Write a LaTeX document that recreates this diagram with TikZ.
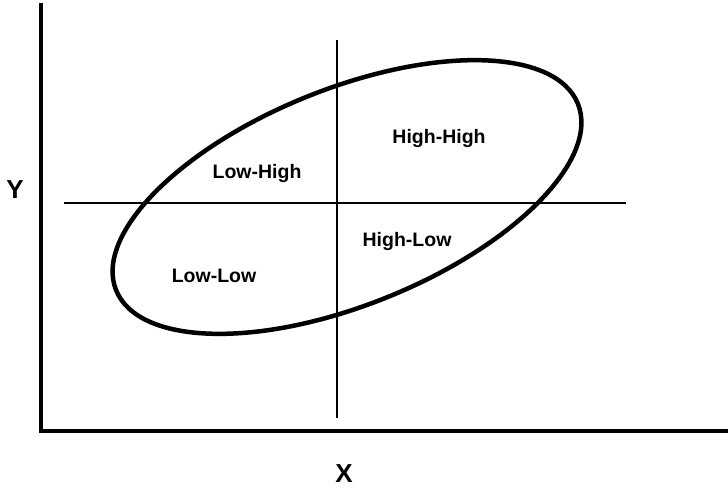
\documentclass[tikz,border=0pt]{standalone}
\usepackage{fontspec}
\setmainfont{Liberation Sans}
\begin{document}
\begin{tikzpicture}[x=1pt,y=1pt,
  axis/.style={line width=4.8pt,line cap=rect},
  divider/.style={line width=2pt},
  loop/.style={line width=4.5pt},
  region/.style={font=\fontsize{19.5}{22}\selectfont\bfseries},
  axislabel/.style={font=\fontsize{26}{30}\selectfont\bfseries}]
\useasboundingbox (0,0) rectangle (728,488);
\coordinate (ytop) at (41,483);
\coordinate (origin) at (41,57);
\coordinate (xend) at (728,57);
\draw[axis] (ytop) -- (origin) -- (xend);
\coordinate (hl) at (64,285);
\coordinate (hr) at (626,285);
\coordinate (vt) at (337,448);
\coordinate (vb) at (337,70);
\draw[divider] (hl) -- (hr);
\draw[divider] (vt) -- (vb);
\coordinate (c) at (347,291);
\draw[loop,rotate around={22:(c)}] (c) ellipse [x radius=249,y radius=108];
\node[region] (hh) at (439,349) {High-High};
\node[region] (lh) at (257,314) {Low-High};
\node[region] (hlow) at (407,246) {High-Low};
\node[region] (ll) at (214,212) {Low-Low};
\node[axislabel] (ylab) at (15,298) {Y};
\node[axislabel] (xlab) at (344,14) {X};
\end{tikzpicture}
\end{document}
